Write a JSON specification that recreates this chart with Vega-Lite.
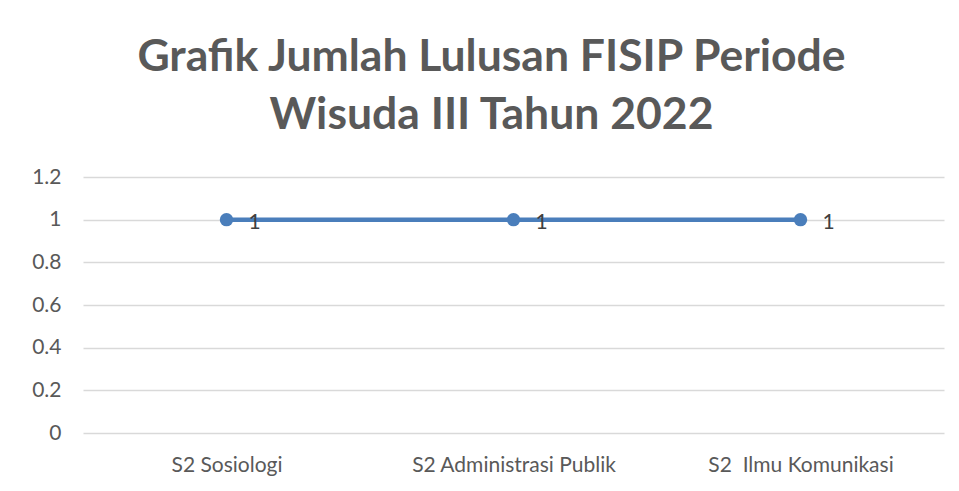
{
  "$schema": "https://vega.github.io/schema/vega-lite/v6.json",
  "width": 861,
  "height": 256,
  "autosize": {"type": "none"},
  "padding": {"left": 83, "top": 177, "right": 15, "bottom": 58},
  "background": "white",
  "title": {
    "text": ["Grafik Jumlah Lulusan FISIP Periode", "Wisuda III Tahun 2022"],
    "font": "Lato",
    "fontSize": 44.5,
    "fontWeight": "bold",
    "color": "#595959",
    "anchor": "middle",
    "dx": -22,
    "offset": 28,
    "lineHeight": 58
  },
  "data": {
    "values": [
      {"prodi": "S2 Sosiologi", "jumlah": 1},
      {"prodi": "S2 Administrasi Publik", "jumlah": 1},
      {"prodi": "S2\u00a0 Ilmu Komunikasi", "jumlah": 1}
    ]
  },
  "encoding": {
    "x": {
      "field": "prodi",
      "type": "nominal",
      "sort": null,
      "scale": {"type": "point", "padding": 0.5},
      "axis": {
        "title": null,
        "labelAngle": 0,
        "labelLimit": 0,
        "domain": false,
        "ticks": false,
        "grid": false,
        "labelFont": "Lato",
        "labelFontSize": 21,
        "labelColor": "#595959",
        "labelPadding": 21
      }
    },
    "y": {
      "field": "jumlah",
      "type": "quantitative",
      "scale": {"domain": [0, 1.2]},
      "axis": {
        "title": null,
        "values": [0, 0.2, 0.4, 0.6, 0.8, 1, 1.2],
        "format": ".1~f",
        "domain": false,
        "ticks": false,
        "grid": true,
        "gridColor": "#d9d9d9",
        "gridWidth": 1.3,
        "labelFont": "Lato",
        "labelFontSize": 21,
        "labelColor": "#595959",
        "labelPadding": 22
      }
    }
  },
  "layer": [
    {"mark": {"type": "line", "color": "#4A7EBB", "strokeWidth": 4.5}},
    {"mark": {"type": "point", "filled": true, "opacity": 1, "color": "#4A7EBB", "size": 180}},
    {
      "mark": {"type": "text", "align": "center", "baseline": "middle", "dx": 28, "dy": 3, "font": "Lato", "fontSize": 21, "color": "#404040"},
      "encoding": {"text": {"field": "jumlah", "type": "quantitative"}}
    }
  ],
  "config": {"view": {"stroke": null}}
}
